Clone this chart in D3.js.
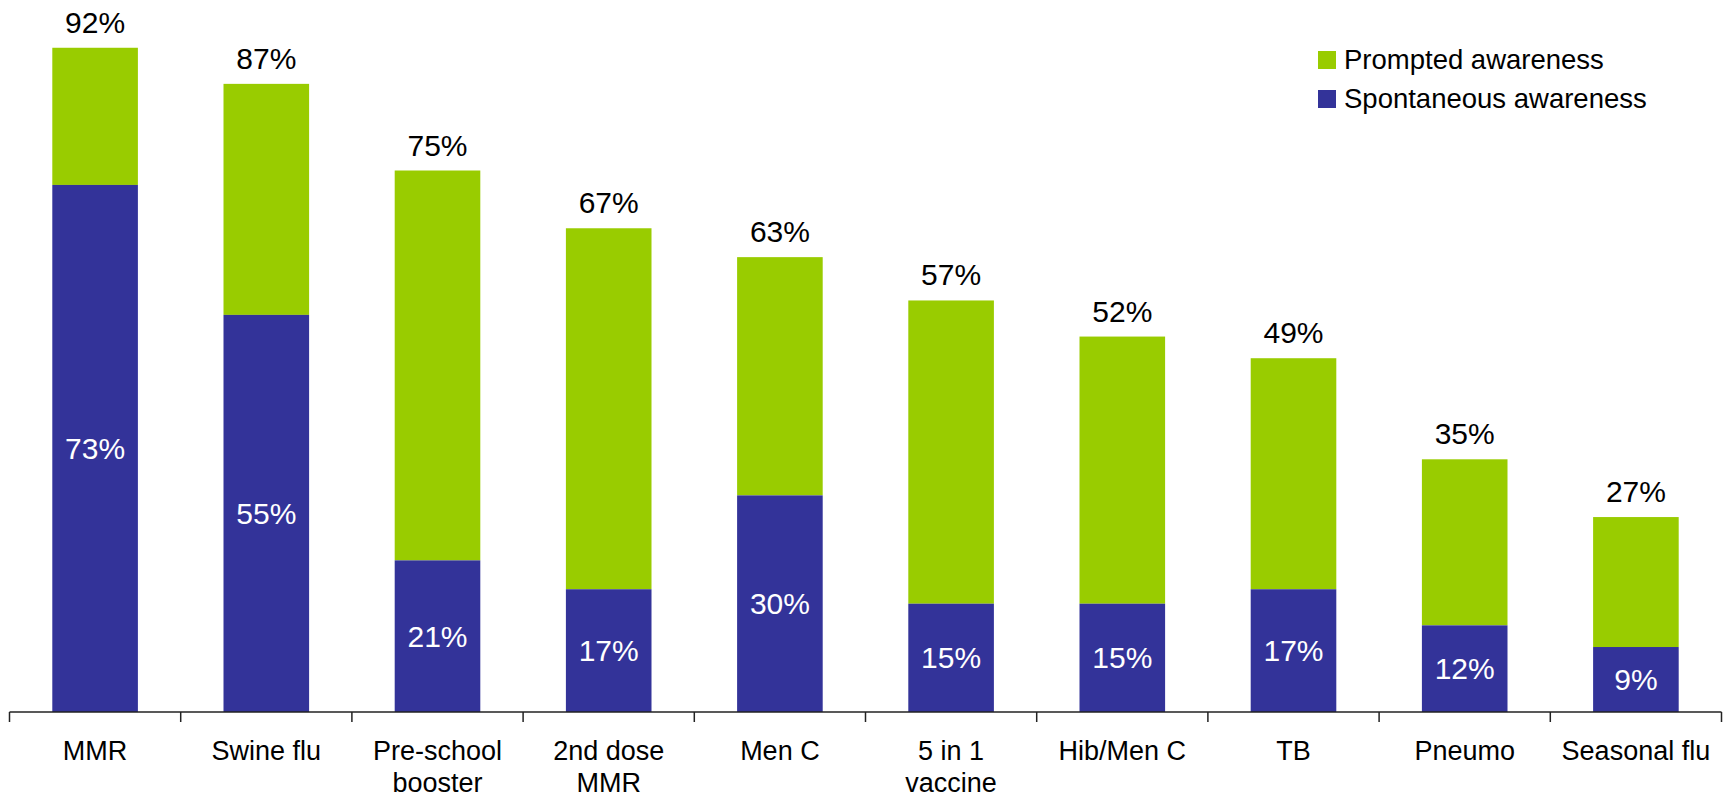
<!DOCTYPE html>
<html>
<head>
<meta charset="utf-8">
<script src="https://cdn.jsdelivr.net/npm/d3@7"></script>
<style>
  html, body { margin: 0; padding: 0; background: #fff; }
  svg { display: block; font-family: "Liberation Sans", Arial, sans-serif; }
</style>
</head>
<body>
<svg id="chart" width="1729" height="800"></svg>
<script>
// Vaccine awareness: total (prompted) and spontaneous awareness, in percent
const categories = ["MMR", "Swine flu", "Pre-school booster", "2nd dose MMR", "Men C",
                    "5 in 1 vaccine", "Hib/Men C", "TB", "Pneumo", "Seasonal flu"];
const categoryLines = [["MMR"], ["Swine flu"], ["Pre-school", "booster"], ["2nd dose", "MMR"],
                       ["Men C"], ["5 in 1", "vaccine"], ["Hib/Men C"], ["TB"], ["Pneumo"], ["Seasonal flu"]];
const totalAwareness = [92, 87, 75, 67, 63, 57, 52, 49, 35, 27];
const spontaneousAwareness = [73, 55, 21, 17, 30, 15, 15, 17, 12, 9];
const seriesNames = ["Prompted awareness", "Spontaneous awareness"];
const seriesColors = ["#99CC00", "#333399"];

const svg = d3.select("#chart");
const axisY = 712;

const x = d3.scaleBand()
  .domain(categories)
  .range([9.5, 1721.5])
  .paddingInner(0.5)
  .paddingOuter(0.25);
const step = x.step();

const y = d3.scaleLinear().domain([0, 100]).range([axisY, -10]);

const rows = categories.map((c, i) => ({
  cat: c, lines: categoryLines[i], total: totalAwareness[i], spont: spontaneousAwareness[i]
}));

// prompted segment (spontaneous up to total)
svg.append("g").selectAll("rect").data(rows).join("rect")
  .attr("x", d => x(d.cat))
  .attr("width", x.bandwidth())
  .attr("y", d => y(d.total))
  .attr("height", d => y(d.spont) - y(d.total))
  .attr("fill", seriesColors[0]);

// spontaneous segment
svg.append("g").selectAll("rect").data(rows).join("rect")
  .attr("x", d => x(d.cat))
  .attr("width", x.bandwidth())
  .attr("y", d => y(d.spont))
  .attr("height", d => y(0) - y(d.spont))
  .attr("fill", seriesColors[1]);

// total labels above the bars
svg.append("g").selectAll("text").data(rows).join("text")
  .attr("x", d => x(d.cat) + x.bandwidth() / 2)
  .attr("y", d => y(d.total) - 15)
  .attr("text-anchor", "middle")
  .attr("font-size", 30)
  .attr("fill", "#000")
  .text(d => d.total + "%");

// spontaneous labels centred in the blue segment
svg.append("g").selectAll("text").data(rows).join("text")
  .attr("x", d => x(d.cat) + x.bandwidth() / 2)
  .attr("y", d => (y(d.spont) + y(0)) / 2)
  .attr("dy", "0.35em")
  .attr("text-anchor", "middle")
  .attr("font-size", 30)
  .attr("fill", "#fff")
  .text(d => d.spont + "%");

// category axis with ticks between categories
const axis = svg.append("g");
const x0 = x.range()[0], x1 = x.range()[1];
axis.append("line")
  .attr("x1", x0).attr("x2", x1)
  .attr("y1", axisY).attr("y2", axisY)
  .attr("stroke", "#222").attr("stroke-width", 1.5);
const tickXs = d3.range(categories.length + 1).map(i => x0 + i * step);
axis.selectAll("line.tick").data(tickXs).join("line")
  .attr("class", "tick")
  .attr("x1", d => d).attr("x2", d => d)
  .attr("y1", axisY).attr("y2", axisY + 10)
  .attr("stroke", "#222").attr("stroke-width", 1.5);

const labels = axis.selectAll("text").data(rows).join("text")
  .attr("x", d => x(d.cat) + x.bandwidth() / 2)
  .attr("y", 760)
  .attr("text-anchor", "middle")
  .attr("font-size", 27)
  .attr("fill", "#000");
labels.selectAll("tspan").data(d => d.lines).join("tspan")
  .attr("x", function () { return d3.select(this.parentNode).attr("x"); })
  .attr("dy", (d, i) => i === 0 ? 0 : 32)
  .text(d => d);

// legend
const legend = svg.append("g");
seriesNames.forEach((name, i) => {
  legend.append("rect")
    .attr("x", 1318).attr("y", 51 + i * 39)
    .attr("width", 18).attr("height", 18)
    .attr("fill", seriesColors[i]);
  legend.append("text")
    .attr("x", 1344).attr("y", 68.5 + i * 39)
    .attr("font-size", 27.5)
    .attr("fill", "#000")
    .text(name);
});
</script>
</body>
</html>
